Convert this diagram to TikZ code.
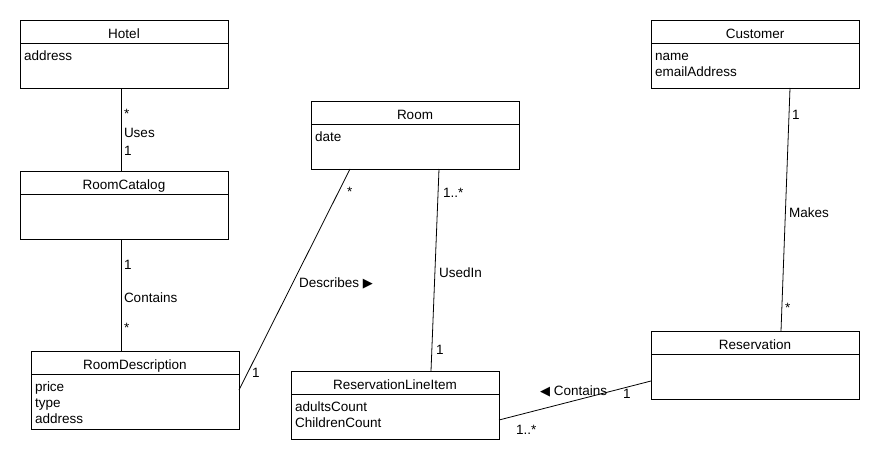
\documentclass[tikz,border=0pt]{standalone}
\usepackage{fontspec}
\setmainfont{Liberation Sans}
\newfontfamily\dejavu{DejaVu Sans}
\newcommand\tri[1]{{\dejavu\fontsize{13}{15}\selectfont #1}}
\begin{document}
\begin{tikzpicture}[x=1pt,y=-1pt,
  every node/.style={inner sep=0pt,outer sep=0pt,font=\fontsize{13.5}{16}\selectfont},
  classbox/.style={draw,line width=0.9pt,minimum width=208pt,minimum height=68pt,anchor=north west},
  conn/.style={line width=0.8pt},
  lbl/.style={anchor=base west}]
\useasboundingbox (0,0) rectangle (880,460);
\newcommand\umlbox[5][68pt]{%
  \node[classbox,minimum height=#1] (#2) at (#3,#4) {};
  \draw[line width=0.9pt] ([yshift=-23pt]#2.north west) -- ([yshift=-23pt]#2.north east);
  \node[anchor=base] (#2-title) at ([yshift=-18pt]#2.north) {#5};}
\newcommand\attr[3]{\node[anchor=base west] (#1-a#2) at ([xshift=4pt,yshift={-(24+16*#2)*1pt}]#1.north west) {#3};}
% classes
\umlbox{hotel}{20}{20}{Hotel}
\attr{hotel}{1}{address}
\umlbox{rc}{20}{171}{RoomCatalog}
\umlbox[78pt]{rd}{31}{351}{RoomDescription}
\attr{rd}{1}{price}
\attr{rd}{2}{type}
\attr{rd}{3}{address}
\umlbox{room}{311}{101}{Room}
\attr{room}{1}{date}
\umlbox{rli}{291}{371}{ReservationLineItem}
\attr{rli}{1}{adultsCount}
\attr{rli}{2}{ChildrenCount}
\umlbox{cust}{651}{20}{Customer}
\attr{cust}{1}{name}
\attr{cust}{2}{emailAddress}
\umlbox{res}{651}{331}{Reservation}
% connectors
\draw[conn] ([xshift=101pt]hotel.south west) -- ([xshift=101pt]rc.north west);
\node[lbl] (l1a) at (124,118) {*};
\node[lbl] (l1b) at (124,137.5) {Uses};
\node[lbl] (l1c) at (124,155) {1};
\draw[conn] ([xshift=101pt]rc.south west) -- ([xshift=90pt]rd.north west);
\node[lbl] (l2a) at (124,269) {1};
\node[lbl] (l2b) at (124,302.5) {Contains};
\node[lbl] (l2c) at (124,332) {*};
\draw[conn] ([xshift=39pt]room.south west) -- ([yshift=-39pt]rd.north east);
\node[lbl] (l3a) at (347,196) {*};
\node[lbl] (l3b) at (299,287.5) {Describes \tri{▶}};
\node[lbl] (l3c) at (252,377) {1};
\draw[conn] ([xshift=128pt]room.south west) -- ([xshift=140pt]rli.north west);
\node[lbl] (l4a) at (443,197.5) {1..*};
\node[lbl] (l4b) at (439,277.5) {UsedIn};
\node[lbl] (l4c) at (436,354.5) {1};
\draw[conn] ([xshift=139pt]cust.south west) -- ([xshift=130pt]res.north west);
\node[lbl] (l5a) at (792,119.5) {1};
\node[lbl] (l5b) at (789,217.5) {Makes};
\node[lbl] (l5c) at (785,312) {*};
\draw[conn] ([yshift=-50pt]res.north west) -- ([yshift=-49pt]rli.north east);
\node[lbl] (l6a) at (540,395.5) {\tri{◀} Contains};
\node[lbl] (l6b) at (623,398) {1};
\node[lbl] (l6c) at (516,434) {1..*};
\end{tikzpicture}
\end{document}
